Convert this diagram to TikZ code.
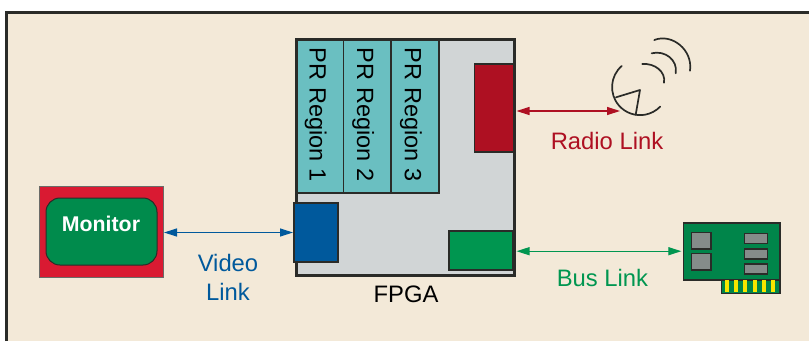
\documentclass[tikz,border=0pt]{standalone}
\usepackage{fontspec}
\setmainfont{Liberation Sans}
\usetikzlibrary{arrows.meta}
\definecolor{bgc}{HTML}{F3E9D8}
\definecolor{ink}{HTML}{2A2B28}
\definecolor{vblue}{HTML}{00599C}
\definecolor{rred}{HTML}{AE1022}
\definecolor{bgreen}{HTML}{009650}
\definecolor{teal}{HTML}{6ABFC1}
\definecolor{chip}{HTML}{D1D5D6}
\definecolor{monred}{HTML}{D91A32}
\definecolor{mongreen}{HTML}{008B4C}
\definecolor{cardgreen}{HTML}{00854A}
\definecolor{cardgray}{HTML}{858C8A}
\definecolor{pin}{HTML}{F7E600}
\tikzset{
  x=1pt,y=-1pt,
  every node/.style={inner sep=0pt,outer sep=0pt},
  blockbox/.style={draw=ink,line width=1.3pt,rectangle},
  prbox/.style={blockbox,fill=teal,rotate=-90,minimum width=154pt,minimum height=48pt,font=\fontsize{23.5}{27}\selectfont,text=black,text height=25pt,text depth=4.6pt,execute at end node={\hspace{3pt}}},
  lab/.style={font=\fontsize{23.8}{29}\selectfont,align=center},
  link/.style={line width=1.2pt,{Triangle[length=13pt,width=8pt]}-{Triangle[length=13pt,width=8pt]}},
  chipgray/.style={draw=ink,line width=1.6pt,fill=cardgray,rectangle},
  pinbar/.style={fill=pin,rectangle,minimum width=4pt,minimum height=12.8pt},
  ant/.style={draw=ink,line width=1.7pt,line cap=round,line join=miter},
}
\begin{document}
\begin{tikzpicture}
\useasboundingbox (0,0) rectangle (809,341);
% background frame
\fill[bgc] (6.5,12) rectangle (809,341);
\draw[ink,line width=3pt] (6.5,341) -- (6.5,12) -- (809,12);
% FPGA
\node[rectangle,fill=chip,minimum width=218pt,minimum height=236pt] (fpga) at (405,157) {};
\node[prbox] (pr1) at (319.7,116) {PR Region 1};
\node[prbox] (pr2) at (367.3,116) {PR Region 2};
\node[prbox] (pr3) at (415,116) {PR Region 3};
\node[blockbox,fill=rred,minimum width=38.5pt,minimum height=88pt] (red) at (494,108) {};
\node[blockbox,fill=bgreen,minimum width=64pt,minimum height=39pt] (grn) at (481,250.5) {};
\draw[ink,line width=3pt] (fpga.south west) rectangle (fpga.north east);
\node[blockbox,fill=vblue,minimum width=44pt,minimum height=59pt] (blu) at (316,232.5) {};
\node[lab] (fpgat) at (406,294) {FPGA};
% Monitor
\node[draw=ink!70,line width=1pt,fill=monred,rectangle,minimum width=124pt,minimum height=91pt] (mon) at (101,231.5) {};
\node[draw=ink,line width=1pt,fill=mongreen,rectangle,rounded corners=14pt,minimum width=111pt,minimum height=67pt] (scr) at (101.5,231.5) {};
\node[text=white,font=\fontsize{21.3}{25}\selectfont\bfseries] (mont) at (101,224) {Monitor};
% Antenna
\draw[ant] (621.7,66) arc[start angle=131,end angle=316,radius=28pt];
\draw[ant,line join=round] (616,97.3) -- (640,90) -- (635.7,114.7);
\draw[ant] (642.3,64) .. controls (655,63) and (666,72) .. (664,82.7);
\draw[ant] (651.7,53.3) .. controls (665,50) and (678,60) .. (675.7,73.3);
\draw[ant] (654.3,40) .. controls (672,33) and (693,50) .. (690,70.7);
\coordinate (anttip) at (620,111);
% Bus card
\node[draw=ink,line width=1.4pt,fill=cardgreen,rectangle,minimum width=58.7pt,minimum height=20pt] (edge) at (750.7,283.3) {};
\node[draw=ink,line width=1.6pt,fill=cardgreen,rectangle,minimum width=96.7pt,minimum height=57pt] (card) at (731.7,251.2) {};
\foreach \n/\x in {a/727,b/736,c/745,d/755,e/764,f/773}{
  \node[pinbar] (pin\n) at (\x,286) {};
}
\node[chipgray,minimum width=19.3pt,minimum height=16.4pt] (s1) at (701.3,240.5) {};
\node[chipgray,minimum width=19.3pt,minimum height=16.7pt] (s2) at (701.3,261.7) {};
\node[chipgray,minimum width=23pt,minimum height=9.8pt] (m1) at (755.8,238.5) {};
\node[chipgray,minimum width=23pt,minimum height=10pt] (m2) at (755.8,253.7) {};
\node[chipgray,minimum width=23pt,minimum height=10pt] (m3) at (755.8,268.7) {};
% Links
\draw[link,vblue,shorten <=1pt,shorten >=1pt] (mon.east|-blu.west) -- (blu.west);
\draw[link,rred,shorten <=2.5pt] (fpga.east|-anttip) -- (anttip);
\draw[link,bgreen,shorten <=2.5pt,shorten >=2pt] (fpga.east|-card.west) -- (card.west);
\node[lab,text=vblue] (vl) at (228,277) {Video\\Link};
\node[lab,text=rred] (rl) at (607,141) {Radio Link};
\node[lab,text=bgreen] (bl) at (602.5,278) {Bus Link};
\end{tikzpicture}
\end{document}
